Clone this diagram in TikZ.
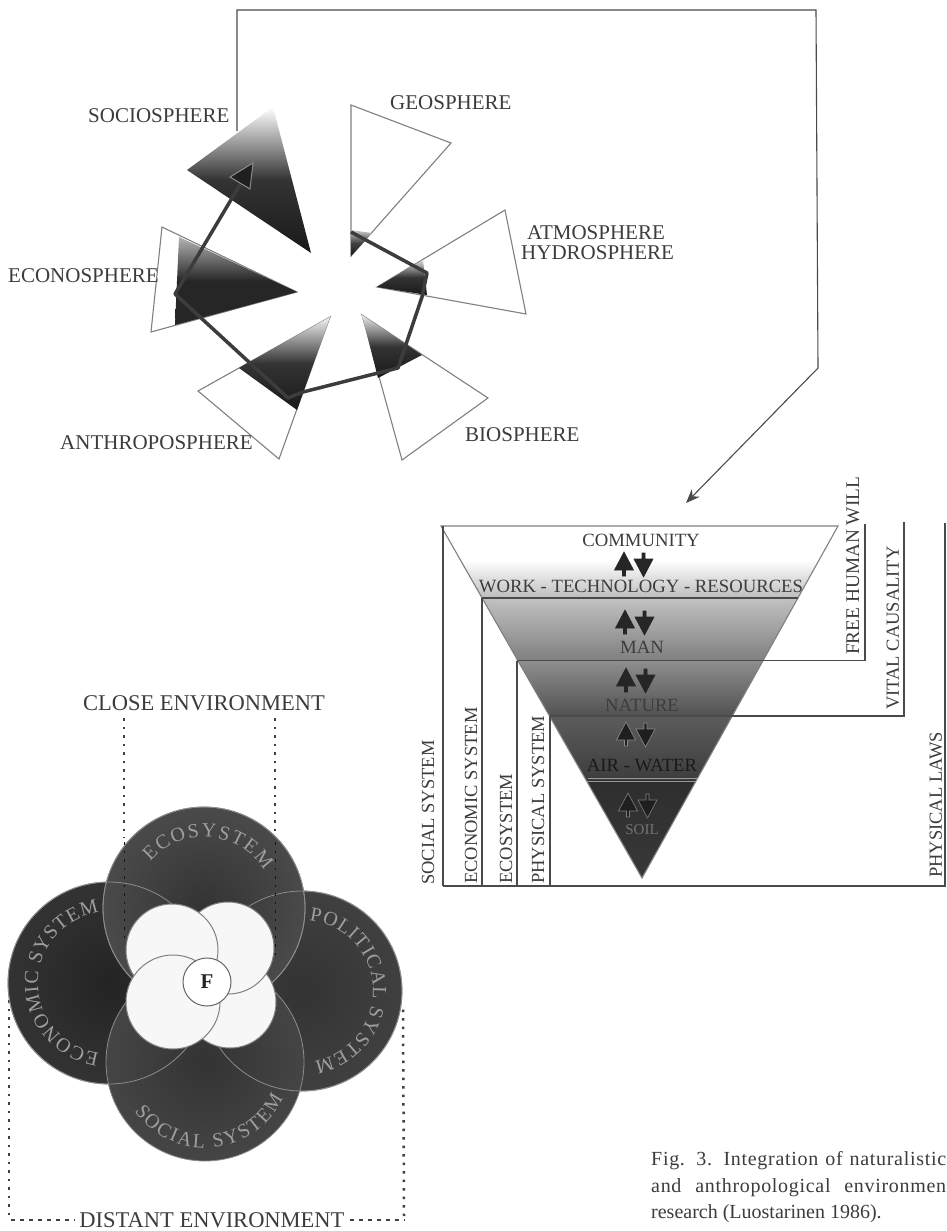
\documentclass[tikz,border=0pt]{standalone}
\usepackage{fontspec}
\setmainfont{Liberation Serif}
\usetikzlibrary{decorations.text,arrows.meta}
\definecolor{ink}{HTML}{3C3C3C}
\definecolor{rule}{HTML}{4A4A4A}
\definecolor{outl}{HTML}{808080}
\tikzset{
  lab/.style={text=ink,inner sep=0pt,font=\fontsize{21}{21}\selectfont},
  labb/.style={text=ink,inner sep=0pt,font=\fontsize{22.5}{22}\selectfont},
  vlab/.style={text=ink,inner sep=0pt,rotate=90,font=\fontsize{18.5}{18}\selectfont},
  tri/.style={text=ink,inner sep=0pt,font=\fontsize{18.7}{18}\selectfont},
  captext/.style={text=ink,inner sep=0pt,anchor=base west,font=\fontsize{20}{20}\selectfont},
  blade/.style={draw=outl,line width=1.1pt,fill=white,line join=miter},
  sysline/.style={draw=rule,line width=1.5pt},
  dots/.style={draw=black!75,line width=2.5pt,dash pattern=on 2.5pt off 6pt},
  dashes/.style={draw=black!75,line width=2pt,dash pattern=on 4pt off 5pt},
  disc/.style={draw=black!45,line width=.8pt},
  petal/.style={draw=black!50,line width=1pt,fill=black!3},
}
\newcommand{\arrowpair}[4]{%
  \fill[#3,draw=#4,line width=.6pt] (#1-19,#2) -- (#1-9.5,#2+18) -- (#1-17.5,#2+18) -- (#1-17.5,#2+24) -- (#1-20.5,#2+24) -- (#1-20.5,#2+18) -- (#1-28.5,#2+18) -- cycle;
  \fill[#3,draw=#4,line width=.6pt] (#1+.5,#2+25) -- (#1-9,#2+7) -- (#1-1,#2+7) -- (#1-1,#2+1) -- (#1+2,#2+1) -- (#1+2,#2+7) -- (#1+10,#2+7) -- cycle;
}
\newcommand{\discarc}[5]{% center, radius, start, end, text
  \path[decorate,decoration={text along path,text align={fit to path},text color=black!38,
     text={|\fontsize{20}{20}\selectfont|#5}}]
     (#1) ++(#3:#2pt) arc[start angle=#3,end angle=#4,radius=#2pt];
}
\begin{document}
\begin{tikzpicture}[x=1pt,y=-1pt]
\useasboundingbox (0,0) rectangle (946,1231);
\fill[white] (0,0) rectangle (946,1231);

% ---------- spheres, outlines
\draw[blade] (351,105) -- (451,143) -- (351,256) -- cycle;
\draw[blade] (505,210) -- (526,314) -- (377,287) -- cycle;
\draw[blade] (362,315) -- (488,398) -- (402,460) -- cycle;
\draw[blade] (330,317) -- (198,391) -- (279,459) -- cycle;
\draw[blade] (297,292) -- (162,227) -- (151,332) -- cycle;

% ---------- spheres, shaded parts
\shade[top color=white,bottom color=black!90,middle color=black!80] (273,107) -- (187,170) -- (311,253) -- cycle;
\shade[top color=black!20,bottom color=black!90,middle color=black!75] (351,230) -- (372,233) -- (351,256) -- cycle;
\shade[top color=black!15,bottom color=black!90,middle color=black!80] (377,287) -- (423,260) -- (427,295) -- cycle;
\shade[top color=black!8,bottom color=black!90,middle color=black!80] (362,315) -- (422,355) -- (378,378) -- cycle;
\shade[top color=black!5,bottom color=black!90,middle color=black!80] (330,317) -- (239,368) -- (297,410) -- cycle;
\shade[top color=black!30,bottom color=black!85,middle color=black!85] (297,292) -- (179,237) -- (175,325) -- cycle;

% ---------- sequence through the spheres
\coordinate (g) at (351,232);
\coordinate (a) at (427,273);
\coordinate (a2) at (422,297);
\coordinate (b) at (398,368);
\coordinate (b2) at (378,373);
\coordinate (h) at (303,392);
\coordinate (h2) at (288,398);
\coordinate (e) at (175,294);
\coordinate (s) at (241,183);
\draw[draw=ink,line width=3.5pt,line join=round] (g) -- (a) -- (a2) -- (b) -- (b2) -- (h) -- (h2) -- (e) -- (s);
\fill[black!88,draw=black!45,line width=1pt] (253,163) -- (230,177) -- (250,189) -- cycle;

% ---------- frame arrow
\coordinate (f0) at (237,131);
\coordinate (f1) at (237,10);
\coordinate (f2) at (816,10);
\coordinate (f3) at (818,368);
\coordinate (f4) at (686,503);
\draw[draw=rule,line width=1.1pt,-{Stealth[length=14pt,width=11pt]}] (f0) -- (f1) -- (f2) -- (f3) -- (f4);

% ---------- sphere labels
\node[lab,anchor=west] (nsoc) at (88,116) {SOCIOSPHERE};
\node[lab,anchor=west] (ngeo) at (390,103) {GEOSPHERE};
\node[lab,anchor=west] (natm) at (527,233) {ATMOSPHERE};
\node[lab,anchor=west] (nhyd) at (521,253) {HYDROSPHERE};
\node[lab,anchor=west] (neco) at (8,276) {ECONOSPHERE};
\node[lab,anchor=west] (nant) at (60,443) {ANTHROPOSPHERE};
\node[lab,anchor=west] (nbio) at (465,435) {BIOSPHERE};

% ---------- inverted pyramid
\begin{scope}
\clip (441,526) -- (838,526) -- (642,878) -- cycle;
\shade[top color=white,bottom color=white] (430,526) rectangle (850,560);
\shade[top color=white,bottom color=black!26] (430,560) rectangle (850,598);
\shade[top color=black!24,bottom color=black!50] (430,598) rectangle (850,660);
\shade[top color=black!44,bottom color=black!68] (430,660) rectangle (850,716);
\shade[top color=black!64,bottom color=black!76] (430,716) rectangle (850,780);
\shade[top color=black!82,bottom color=black!78] (430,780) rectangle (850,878);
\end{scope}
\draw[draw=outl,line width=1.1pt] (441,526) -- (838,526) -- (642,878) -- cycle;

\draw[sysline] (443,526) -- (443,886);
\draw[sysline] (443,886) -- (946,886);
\draw[sysline] (482,598) -- (798,598);
\draw[sysline] (482,598) -- (482,886);
\draw[sysline] (517,660.5) -- (865,660.5) -- (865,524);
\draw[sysline] (517,660.5) -- (517,886);
\draw[sysline] (550,716) -- (904,716) -- (904,522);
\draw[sysline] (550,716) -- (550,886);
\draw[sysline] (945,523) -- (945,886);
\draw[draw=black!40,line width=1pt] (588,778) -- (698,778);
\draw[draw=black!40,line width=1pt] (586,781.5) -- (696,781.5);

\arrowpair{643}{552}{black!85}{black!85}
\arrowpair{644}{610}{black!85}{black!85}
\arrowpair{645}{668}{black!85}{black!85}
\arrowpair{645}{722}{black!88}{black!45}
\arrowpair{647}{793}{black!88}{black!50}

\node[tri] (tcom) at (641,540) {COMMUNITY};
\node[tri] (twork) at (641,586) {WORK - TECHNOLOGY - RESOURCES};
\node[tri] (tman) at (642,647) {MAN};
\node[tri] (tnat) at (642,705) {NATURE};
\node[tri,text=black!90] (tair) at (642,765) {AIR - WATER};
\node[tri,text=black!55,font=\fontsize{15}{15}\selectfont] (tsoil) at (642,830) {SOIL};

\node[vlab,anchor=west] (vsoc) at (428,885) {SOCIAL SYSTEM};
\node[vlab,anchor=west] (veco) at (471,884) {ECONOMIC SYSTEM};
\node[vlab,anchor=west] (vesy) at (506,884) {ECOSYSTEM};
\node[vlab,anchor=west] (vphy) at (538,884) {PHYSICAL SYSTEM};
\node[vlab,anchor=west] (vlaw) at (936,878) {PHYSICAL LAWS};
\node[vlab,anchor=west,font=\fontsize{19.3}{18}\selectfont] (vwil) at (853,655) {FREE HUMAN WILL};
\node[vlab,anchor=west] (vcau) at (893,710) {VITAL CAUSALITY};

% ---------- close / distant environment
\node[labb] (nclose) at (204,703) {CLOSE ENVIRONMENT};
\node[text=ink,inner sep=0pt,font=\fontsize{22.5}{22}\selectfont] (ndist) at (212,1220) {DISTANT ENVIRONMENT};
\coordinate (c1) at (124,718);
\coordinate (c1b) at (124,838);
\coordinate (c2) at (275,718);
\coordinate (c2b) at (275,836);
\coordinate (d1) at (9,983);
\coordinate (d2) at (9,1217);
\coordinate (d2b) at (11,1220);
\coordinate (d3) at (405,1220);
\coordinate (d3b) at (404,1216);
\coordinate (d4) at (403,1007);
\draw[dots] (c1) -- (c1b);
\draw[dots] (c2) -- (c2b);
\draw[dots] (d1) -- (d2);
\draw[dots] (d3b) -- (d4);
\draw[dashes,shorten >=5pt] (d2b) -- (ndist.west);
\draw[dashes,shorten <=5pt] (ndist.east) -- (d3);

% ---------- system discs
\coordinate (cecon) at (109,983);
\coordinate (cpol) at (302,991);
\coordinate (ceco) at (204,908);
\coordinate (csoc) at (205,1062);
\shade[inner color=black!86,outer color=black!80,disc] (cecon) circle[radius=101];
\shade[inner color=black!80,outer color=black!75,disc] (cpol) circle[radius=100];
\shade[inner color=black!80,outer color=black!71,disc] (ceco) circle[radius=101];
\shade[inner color=black!80,outer color=black!73,disc] (csoc) circle[radius=99];
\draw[disc] (cecon) circle[radius=101];
\draw[disc] (ceco) circle[radius=101];
\draw[disc] (cpol) circle[radius=100];

\draw[dots,draw=black!92,line width=1.5pt] (124.5,842) -- (124.5,940);
\draw[dots,draw=black!92,line width=1.5pt] (275.5,842) -- (275.5,957);

\discarc{ceco}{71}{139}{32}{ECOSYSTEM}
\discarc{cecon}{71}{262}{98}{ECONOMIC SYSTEM}
\discarc{cpol}{71}{84}{-80}{POLITICAL SYSTEM}
\discarc{csoc}{86}{215}{335}{SOCIAL SYSTEM}

% ---------- petals and centre
\draw[petal] (230,1002) circle[radius=46];
\draw[petal] (228,948) circle[radius=46];
\draw[petal] (172,950) circle[radius=46];
\draw[petal] (173,1002) circle[radius=47];
\node[circle,draw=black!60,line width=1pt,fill=white,minimum size=48pt,inner sep=0pt,text=black!85,font=\fontsize{21}{21}\selectfont\bfseries] (F) at (207,982) {F};

% ---------- caption
\node[captext] (cap1) at (651,1165) {\addfontfeature{LetterSpace=3.5}\makebox[295pt][s]{Fig. 3. Integration of naturalistic}};
\node[captext] (cap2) at (651,1192) {\addfontfeature{LetterSpace=3.5}\makebox[295pt][s]{and anthropological environmen}};
\node[captext] (cap3) at (651,1218) {research (Luostarinen 1986).};
\end{tikzpicture}
\end{document}
